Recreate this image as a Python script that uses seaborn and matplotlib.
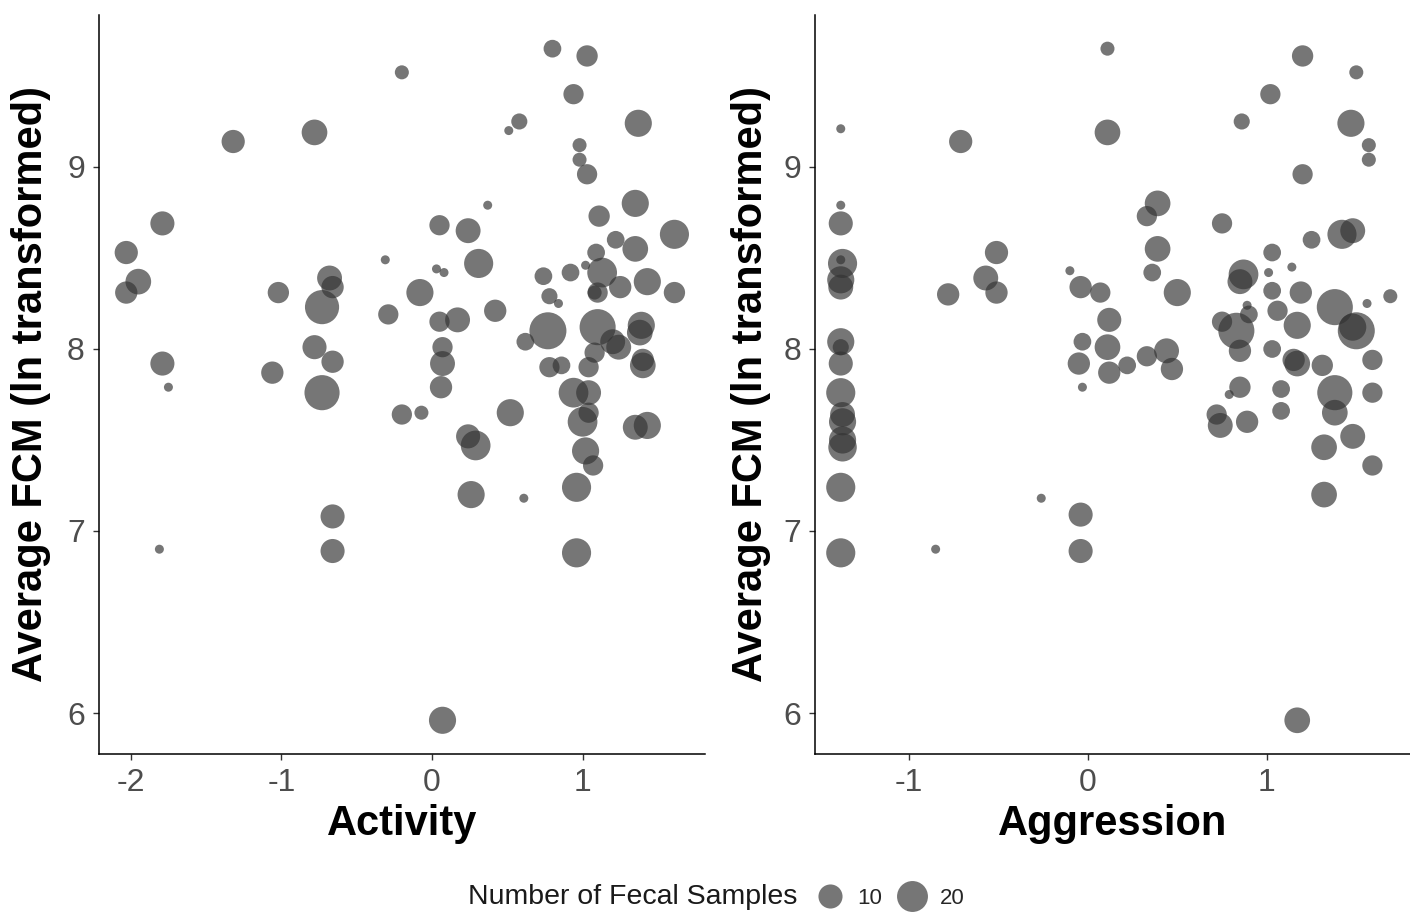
import numpy as np
import pandas as pd
import matplotlib.pyplot as plt
from matplotlib.lines import Line2D
import seaborn as sns

# Activity panel: personality score, average FCM (ln), number of fecal samples
act_x = [-0.20, -1.32, -0.78, -1.79, -2.03, -1.95, -2.03, -1.02, -0.31, -0.68,
         -0.66, -0.73, -0.29, -0.78, -0.66, -1.06, -1.79, -1.75, -0.73, -0.20,
         -0.66, -0.66, -1.81, 0.06, -0.07, 0.52, 0.24, 0.29, 0.26, 0.61,
         0.96, 0.96, 0.07, 0.94, 1.04, 1.00, 1.04, 1.02, 1.07, 1.35,
         1.43, 0.80, 1.03, 0.94, 0.58, 0.51, 1.37, 0.98, 0.98, 1.03,
         0.37, 1.35, 1.11, 0.05, 0.24, 1.61, 1.22, 1.35, 1.09, 0.31,
         0.03, 0.08, 0.92, 1.02, 1.13, 0.74, 1.25, 1.43, 1.61, 1.10,
         0.78, 0.84, -0.08, 0.42, 0.05, 0.17, 0.77, 1.10, 0.62, 1.20,
         1.24, 1.39, 1.38, 1.08, 0.07, 0.07, 0.78, 0.86, 1.04, 1.40,
         1.40, 1.08]
act_fcm = [9.52, 9.14, 9.19, 8.69, 8.53, 8.37, 8.31, 8.31, 8.49, 8.39,
           8.34, 8.23, 8.19, 8.01, 7.93, 7.87, 7.92, 7.79, 7.76, 7.64,
           7.08, 6.89, 6.90, 7.79, 7.65, 7.65, 7.52, 7.47, 7.20, 7.18,
           7.24, 6.88, 5.96, 7.76, 7.76, 7.60, 7.65, 7.44, 7.36, 7.57,
           7.58, 9.65, 9.61, 9.40, 9.25, 9.20, 9.24, 9.12, 9.04, 8.96,
           8.79, 8.80, 8.73, 8.68, 8.65, 8.63, 8.60, 8.55, 8.53, 8.47,
           8.44, 8.42, 8.42, 8.46, 8.42, 8.40, 8.34, 8.37, 8.31, 8.31,
           8.29, 8.25, 8.31, 8.21, 8.15, 8.16, 8.10, 8.12, 8.04, 8.04,
           8.01, 8.13, 8.09, 7.98, 8.01, 7.92, 7.90, 7.91, 7.90, 7.91,
           7.94, 8.31]
act_n = [2, 9, 12, 10, 9, 12, 8, 7, 1, 11,
         8, 26, 6, 10, 8, 8, 10, 1, 28, 6,
         10, 10, 1, 8, 2, 14, 10, 18, 14, 1,
         17, 17, 14, 18, 11, 18, 6, 14, 6, 11,
         14, 4, 7, 6, 3, 1, 14, 2, 2, 6,
         1, 14, 7, 6, 11, 17, 4, 12, 4, 17,
         1, 1, 4, 1, 18, 4, 8, 14, 7, 6,
         3, 1, 14, 8, 6, 11, 32, 30, 4, 11,
         11, 14, 12, 6, 6, 11, 6, 4, 6, 12,
         8, 2]

# Aggression panel
agg_x = [0.11, -1.38, -0.71, 0.11, -1.38, -1.38, -1.37, -1.38, -1.38, -1.38,
         -0.51, -0.57, -0.51, -0.78, -0.10, -0.04, 0.07, -1.38, -1.38, -1.38,
         -1.38, -0.03, -0.05, -0.03, 0.12, 0.11, 0.12, -1.37, -1.37, -1.37,
         -1.37, -1.38, -1.38, -0.26, -0.04, -0.04, -0.85, 1.20, 1.50, 1.02,
         0.86, 1.47, 1.57, 1.57, 1.20, 0.39, 0.33, 0.75, 0.39, 0.36,
         0.50, 1.25, 1.42, 1.48, 1.03, 1.14, 1.01, 0.87, 0.85, 1.03,
         1.19, 1.69, 1.56, 1.38, 0.89, 0.90, 0.75, 0.83, 1.06, 1.17,
         1.50, 1.48, 0.22, 0.33, 0.44, 0.47, 0.85, 1.03, 1.17, 1.15,
         1.31, 1.59, 0.85, 0.79, 1.08, 1.38, 1.59, 0.72, 0.74, 0.89,
         1.08, 1.38, 1.48, 1.32, 1.59, 1.32, 1.17]
agg_fcm = [9.65, 9.21, 9.14, 9.19, 8.79, 8.69, 8.47, 8.49, 8.38, 8.34,
           8.53, 8.39, 8.31, 8.30, 8.43, 8.34, 8.31, 8.04, 8.01, 7.92,
           7.76, 8.04, 7.92, 7.79, 8.16, 8.01, 7.87, 7.60, 7.64, 7.46,
           7.50, 7.24, 6.88, 7.18, 7.09, 6.89, 6.90, 9.61, 9.52, 9.40,
           9.25, 9.24, 9.12, 9.04, 8.96, 8.80, 8.73, 8.69, 8.55, 8.42,
           8.31, 8.60, 8.63, 8.65, 8.53, 8.45, 8.42, 8.41, 8.37, 8.32,
           8.31, 8.29, 8.25, 8.23, 8.24, 8.19, 8.15, 8.10, 8.21, 8.13,
           8.10, 8.12, 7.91, 7.96, 7.99, 7.89, 7.99, 8.00, 7.92, 7.94,
           7.91, 7.94, 7.79, 7.75, 7.78, 7.76, 7.76, 7.64, 7.58, 7.60,
           7.66, 7.65, 7.52, 7.46, 7.36, 7.20, 5.96]
agg_n = [2, 1, 9, 12, 1, 10, 17, 1, 14, 11,
         9, 11, 8, 8, 1, 8, 6, 14, 3, 10,
         17, 4, 8, 1, 10, 12, 8, 14, 11, 16,
         14, 17, 17, 1, 10, 10, 1, 7, 2, 6,
         3, 14, 2, 2, 6, 12, 6, 6, 12, 4,
         14, 4, 17, 11, 4, 1, 1, 18, 11, 4,
         8, 2, 1, 30, 1, 4, 6, 30, 6, 14,
         32, 14, 4, 6, 11, 8, 8, 4, 12, 8,
         7, 6, 7, 1, 4, 28, 6, 6, 11, 8,
         4, 12, 11, 12, 6, 12, 12]

legend_n = [10, 20]
fcm_ticks = [6, 7, 8, 9]
act_ticks = [-2, -1, 0, 1]
agg_ticks = [-1, 0, 1]

POINT = "#333333"
ALPHA = 0.67


def marker_area(n, n_min=1, n_max=32):
    # diameter grows with sqrt of the rescaled count (like ggplot's scale_size)
    d_px = 9 + 28 * np.sqrt((n - n_min) / (n_max - n_min))
    return (d_px * 0.72) ** 2


act_df = pd.DataFrame({"x": act_x, "fcm": act_fcm, "n": act_n})
agg_df = pd.DataFrame({"x": agg_x, "fcm": agg_fcm, "n": agg_n})
size_map = {n: marker_area(n) for n in sorted(set(act_n + agg_n))}

sns.set_style("ticks")
plt.rcParams["font.family"] = ["Liberation Sans", "DejaVu Sans"]

fig = plt.figure(figsize=(14.1, 9.15), dpi=100)
ax1 = fig.add_axes([0.070, 0.176, 0.430, 0.8076])
ax2 = fig.add_axes([0.578, 0.176, 0.422, 0.8076])

panels = [
    (ax1, act_df, "Activity", act_ticks, (-2.213, 1.813)),
    (ax2, agg_df, "Aggression", agg_ticks, (-1.524, 1.80)),
]
for ax, df, xlabel, xticks, xlim in panels:
    sns.scatterplot(data=df, x="x", y="fcm", size="n", sizes=size_map,
                    color=POINT, alpha=ALPHA, linewidth=0, legend=False, ax=ax)
    ax.set_xlim(*xlim)
    ax.set_ylim(5.775, 9.835)
    ax.set_xticks(xticks)
    ax.set_yticks(fcm_ticks)
    ax.set_xticklabels([str(t) for t in xticks])
    ax.tick_params(labelsize=23, labelcolor="#4d4d4d", color="#333333",
                   length=4, width=1, pad=6)
    sns.despine(ax=ax)
    for side in ["left", "bottom"]:
        ax.spines[side].set_color("black")
        ax.spines[side].set_linewidth(1.1)
    ax.set_xlabel(xlabel, fontsize=30, fontweight="bold", color="black")
    ax.set_ylabel("Average FCM (ln transformed)", fontsize=30,
                  fontweight="bold", color="black")
    ax.xaxis.set_label_coords(0.5, -0.068)
    ax.xaxis.label.set_va("top")

ax1.yaxis.set_label_coords(-0.078, 0.5)
ax2.yaxis.set_label_coords(-0.074, 0.5)

handles = [Line2D([], [], marker="o", linestyle="", markersize=np.sqrt(marker_area(n)),
                  markerfacecolor=POINT, markeredgewidth=0, alpha=ALPHA)
           for n in legend_n]
fig.text(797 / 1410, 1 - 897 / 915, "Number of Fecal Samples", ha="right",
         va="center", fontsize=20.5, color="#1a1a1a")
fig.legend(handles, [str(n) for n in legend_n], loc="center left",
           bbox_to_anchor=(813 / 1410, 1 - 898 / 915), ncol=2, frameon=False,
           fontsize=16, handlelength=1.5, handletextpad=0.5, columnspacing=0.6,
           borderpad=0, borderaxespad=0)

fig.savefig("out.png", dpi=100)
